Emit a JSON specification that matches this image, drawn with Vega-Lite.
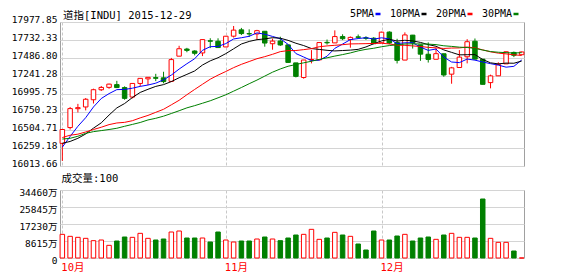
{
  "$schema": "https://vega.github.io/schema/vega-lite/v6.json",
  "padding": {"left": 10, "top": 9, "right": 0, "bottom": 0},
  "background": "white",
  "spacing": 4,
  "config": {
    "view": {"stroke": "#a0a0a0"},
    "font": "DejaVu Sans Mono, Noto Sans CJK SC",
    "axis": {"labelFont": "DejaVu Sans Mono, Noto Sans CJK SC", "labelFontSize": 9.5, "labelColor": "#000000", "gridColor": "#d4d4d4", "domain": false, "ticks": false, "title": null, "labelFlush": false, "labelOverlap": false, "labelBound": false},
    "title": {"font": "DejaVu Sans Mono, Noto Sans CJK SC", "fontSize": 10.5, "fontWeight": "normal", "color": "#000000", "anchor": "start", "baseline": "bottom", "frame": "group"}
  },
  "datasets": {
    "k": [
      {"d": "2015-10-02", "o": 16270, "h": 16480, "l": 16014, "c": 16472, "v": 11992, "a5": 16216, "a10": 16272, "a20": 16355, "a30": 16333},
      {"d": "2015-10-05", "o": 16500, "h": 16800, "l": 16472, "c": 16776, "v": 10979, "a5": 16371, "a10": 16298, "a20": 16389, "a30": 16344},
      {"d": "2015-10-06", "o": 16775, "h": 16845, "l": 16720, "c": 16790, "v": 10472, "a5": 16519, "a10": 16344, "a20": 16404, "a30": 16374},
      {"d": "2015-10-07", "o": 16800, "h": 16930, "l": 16750, "c": 16912, "v": 9965, "a5": 16644, "a10": 16407, "a20": 16436, "a30": 16416},
      {"d": "2015-10-08", "o": 16905, "h": 17066, "l": 16850, "c": 17051, "v": 8783, "a5": 16800, "a10": 16492, "a20": 16472, "a30": 16441},
      {"d": "2015-10-09", "o": 17050, "h": 17105, "l": 17032, "c": 17084, "v": 9121, "a5": 16923, "a10": 16569, "a20": 16505, "a30": 16456},
      {"d": "2015-10-12", "o": 17085, "h": 17139, "l": 17064, "c": 17132, "v": 6418, "a5": 16994, "a10": 16682, "a20": 16543, "a30": 16472},
      {"d": "2015-10-13", "o": 17125, "h": 17180, "l": 17075, "c": 17082, "v": 8614, "a5": 17052, "a10": 16786, "a20": 16567, "a30": 16490},
      {"d": "2015-10-14", "o": 17082, "h": 17100, "l": 16905, "c": 16925, "v": 10641, "a5": 17055, "a10": 16850, "a20": 16576, "a30": 16519},
      {"d": "2015-10-15", "o": 16944, "h": 17142, "l": 16924, "c": 17142, "v": 10472, "a5": 17073, "a10": 16937, "a20": 16600, "a30": 16546},
      {"d": "2015-10-16", "o": 17142, "h": 17218, "l": 17100, "c": 17216, "v": 12499, "a5": 17099, "a10": 17011, "a20": 16641, "a30": 16574},
      {"d": "2015-10-19", "o": 17209, "h": 17235, "l": 17119, "c": 17231, "v": 9965, "a5": 17119, "a10": 17057, "a20": 16677, "a30": 16611},
      {"d": "2015-10-20", "o": 17227, "h": 17282, "l": 17176, "c": 17217, "v": 9121, "a5": 17146, "a10": 17099, "a20": 16722, "a30": 16635},
      {"d": "2015-10-21", "o": 17224, "h": 17312, "l": 17144, "c": 17169, "v": 9627, "a5": 17195, "a10": 17125, "a20": 16766, "a30": 16666},
      {"d": "2015-10-22", "o": 17172, "h": 17513, "l": 17162, "c": 17489, "v": 13174, "a5": 17264, "a10": 17169, "a20": 16831, "a30": 16705},
      {"d": "2015-10-23", "o": 17539, "h": 17690, "l": 17539, "c": 17647, "v": 13681, "a5": 17351, "a10": 17225, "a20": 16897, "a30": 16745},
      {"d": "2015-10-26", "o": 17642, "h": 17660, "l": 17596, "c": 17623, "v": 10134, "a5": 17429, "a10": 17274, "a20": 16978, "a30": 16787},
      {"d": "2015-10-27", "o": 17614, "h": 17625, "l": 17551, "c": 17581, "v": 10134, "a5": 17502, "a10": 17324, "a20": 17055, "a30": 16819},
      {"d": "2015-10-28", "o": 17586, "h": 17780, "l": 17540, "c": 17780, "v": 10134, "a5": 17624, "a10": 17410, "a20": 17130, "a30": 16854},
      {"d": "2015-10-29", "o": 17763, "h": 17800, "l": 17656, "c": 17756, "v": 8107, "a5": 17677, "a10": 17471, "a20": 17204, "a30": 16890},
      {"d": "2015-10-30", "o": 17756, "h": 17799, "l": 17660, "c": 17664, "v": 13174, "a5": 17681, "a10": 17516, "a20": 17263, "a30": 16933},
      {"d": "2015-11-02", "o": 17673, "h": 17833, "l": 17673, "c": 17829, "v": 9121, "a5": 17722, "a10": 17576, "a20": 17316, "a30": 16977},
      {"d": "2015-11-03", "o": 17830, "h": 17977.85, "l": 17810, "c": 17918, "v": 8107, "a5": 17789, "a10": 17646, "a20": 17372, "a30": 17030},
      {"d": "2015-11-04", "o": 17922, "h": 17950, "l": 17846, "c": 17868, "v": 8614, "a5": 17807, "a10": 17716, "a20": 17420, "a30": 17083},
      {"d": "2015-11-05", "o": 17867, "h": 17929, "l": 17819, "c": 17863, "v": 8614, "a5": 17828, "a10": 17753, "a20": 17461, "a30": 17138},
      {"d": "2015-11-06", "o": 17862, "h": 17922, "l": 17777, "c": 17910, "v": 9627, "a5": 17878, "a10": 17779, "a20": 17502, "a30": 17191},
      {"d": "2015-11-09", "o": 17901, "h": 17901, "l": 17677, "c": 17730, "v": 10641, "a5": 17858, "a10": 17790, "a20": 17532, "a30": 17249},
      {"d": "2015-11-10", "o": 17720, "h": 17795, "l": 17633, "c": 17758, "v": 9627, "a5": 17826, "a10": 17808, "a20": 17566, "a30": 17306},
      {"d": "2015-11-11", "o": 17759, "h": 17822, "l": 17688, "c": 17702, "v": 8783, "a5": 17793, "a10": 17800, "a20": 17605, "a30": 17353},
      {"d": "2015-11-12", "o": 17703, "h": 17703, "l": 17442, "c": 17448, "v": 10134, "a5": 17710, "a10": 17769, "a20": 17620, "a30": 17392},
      {"d": "2015-11-13", "o": 17441, "h": 17441, "l": 17230, "c": 17245, "v": 11654, "a5": 17577, "a10": 17727, "a20": 17621, "a30": 17418},
      {"d": "2015-11-16", "o": 17229, "h": 17484, "l": 17211, "c": 17483, "v": 11992, "a5": 17527, "a10": 17693, "a20": 17634, "a30": 17442},
      {"d": "2015-11-17", "o": 17486, "h": 17627, "l": 17434, "c": 17490, "v": 14525, "a5": 17474, "a10": 17650, "a20": 17648, "a30": 17465},
      {"d": "2015-11-18", "o": 17485, "h": 17740, "l": 17485, "c": 17737, "v": 9458, "a5": 17481, "a10": 17637, "a20": 17676, "a30": 17492},
      {"d": "2015-11-19", "o": 17740, "h": 17781, "l": 17707, "c": 17733, "v": 10134, "a5": 17538, "a10": 17624, "a20": 17688, "a30": 17515},
      {"d": "2015-11-20", "o": 17732, "h": 17914, "l": 17732, "c": 17824, "v": 13005, "a5": 17653, "a10": 17615, "a20": 17697, "a30": 17540},
      {"d": "2015-11-23", "o": 17824, "h": 17857, "l": 17773, "c": 17793, "v": 11654, "a5": 17715, "a10": 17621, "a20": 17706, "a30": 17562},
      {"d": "2015-11-24", "o": 17781, "h": 17825, "l": 17662, "c": 17812, "v": 10979, "a5": 17780, "a10": 17627, "a20": 17717, "a30": 17586},
      {"d": "2015-11-25", "o": 17820, "h": 17854, "l": 17792, "c": 17813, "v": 7094, "a5": 17795, "a10": 17638, "a20": 17719, "a30": 17616},
      {"d": "2015-11-27", "o": 17806, "h": 17829, "l": 17776, "c": 17798, "v": 4054, "a5": 17808, "a10": 17673, "a20": 17721, "a30": 17638},
      {"d": "2015-11-30", "o": 17800, "h": 17817, "l": 17716, "c": 17720, "v": 13681, "a5": 17787, "a10": 17720, "a20": 17724, "a30": 17654},
      {"d": "2015-12-01", "o": 17734, "h": 17895, "l": 17734, "c": 17888, "v": 9121, "a5": 17806, "a10": 17761, "a20": 17727, "a30": 17676},
      {"d": "2015-12-02", "o": 17889, "h": 17901, "l": 17711, "c": 17730, "v": 9121, "a5": 17790, "a10": 17785, "a20": 17717, "a30": 17693},
      {"d": "2015-12-03", "o": 17739, "h": 17792, "l": 17433, "c": 17478, "v": 11147, "a5": 17723, "a10": 17759, "a20": 17698, "a30": 17704},
      {"d": "2015-12-04", "o": 17482, "h": 17885, "l": 17482, "c": 17848, "v": 11992, "a5": 17733, "a10": 17770, "a20": 17697, "a30": 17716},
      {"d": "2015-12-07", "o": 17845, "h": 17848, "l": 17650, "c": 17731, "v": 8614, "a5": 17735, "a10": 17761, "a20": 17688, "a30": 17718},
      {"d": "2015-12-08", "o": 17703, "h": 17703, "l": 17471, "c": 17568, "v": 10134, "a5": 17671, "a10": 17739, "a20": 17680, "a30": 17717},
      {"d": "2015-12-09", "o": 17567, "h": 17740, "l": 17446, "c": 17492, "v": 10641, "a5": 17623, "a10": 17707, "a20": 17667, "a30": 17714},
      {"d": "2015-12-10", "o": 17494, "h": 17657, "l": 17494, "c": 17575, "v": 9458, "a5": 17643, "a10": 17683, "a20": 17660, "a30": 17707},
      {"d": "2015-12-11", "o": 17574, "h": 17574, "l": 17239, "c": 17265, "v": 11654, "a5": 17526, "a10": 17630, "a20": 17651, "a30": 17690},
      {"d": "2015-12-14", "o": 17277, "h": 17383, "l": 17138, "c": 17369, "v": 12499, "a5": 17454, "a10": 17594, "a20": 17657, "a30": 17681},
      {"d": "2015-12-15", "o": 17374, "h": 17627, "l": 17374, "c": 17525, "v": 10472, "a5": 17445, "a10": 17558, "a20": 17659, "a30": 17670},
      {"d": "2015-12-16", "o": 17530, "h": 17786, "l": 17434, "c": 17749, "v": 10472, "a5": 17497, "a10": 17560, "a20": 17672, "a30": 17665},
      {"d": "2015-12-17", "o": 17756, "h": 17796, "l": 17488, "c": 17496, "v": 10134, "a5": 17481, "a10": 17562, "a20": 17660, "a30": 17652},
      {"d": "2015-12-18", "o": 17495, "h": 17495, "l": 17128, "c": 17129, "v": 29895, "a5": 17454, "a10": 17490, "a20": 17630, "a30": 17628},
      {"d": "2015-12-21", "o": 17154, "h": 17270, "l": 17071, "c": 17252, "v": 9965, "a5": 17430, "a10": 17442, "a20": 17602, "a30": 17606},
      {"d": "2015-12-22", "o": 17253, "h": 17450, "l": 17253, "c": 17417, "v": 7938, "a5": 17409, "a10": 17427, "a20": 17583, "a30": 17596},
      {"d": "2015-12-23", "o": 17427, "h": 17606, "l": 17427, "c": 17603, "v": 7938, "a5": 17379, "a10": 17438, "a20": 17572, "a30": 17590},
      {"d": "2015-12-24", "o": 17593, "h": 17606, "l": 17525, "c": 17552, "v": 3547, "a5": 17391, "a10": 17436, "a20": 17559, "a30": 17585},
      {"d": "2015-12-29", "o": 17560, "h": 17605, "l": 17555, "c": 17600, "v": 0.01, "a5": 17483, "a10": 17468, "a20": 17549, "a30": 17590}
    ]
  },
  "vconcat": [
    {
      "width": 464,
      "height": 144,
      "title": {"text": "道指[INDU] 2015-12-29", "offset": -6.5, "dx": 3},
      "data": {"name": "k"},
      "encoding": {
        "x": {"field": "d", "type": "ordinal", "scale": {"type": "point", "padding": 0.3},
              "axis": {"values": ["2015-10-02", "2015-11-02", "2015-12-01"], "labels": false, "grid": true, "gridDash": [3, 2], "gridColor": "#c8c8c8"}}
      },
      "layer": [
        {
          "mark": {"type": "rule", "strokeWidth": 1},
          "encoding": {
            "y": {"field": "l", "type": "quantitative",
                  "scale": {"domain": [15941, 18036], "nice": false, "zero": false},
                  "axis": {"values": [15941, 16202.875, 16464.75, 16726.625, 16988.5, 17250.375, 17512.25, 17774.125, 18036],
                           "labelExpr": "datum.value < 16000 ? '16013.66' : datum.value < 16300 ? '16259.18' : datum.value < 16600 ? '16504.71' : datum.value < 16850 ? '16750.23' : datum.value < 17100 ? '16995.75' : datum.value < 17400 ? '17241.28' : datum.value < 17650 ? '17486.80' : datum.value < 17900 ? '17732.33' : '17977.85'",
                           "grid": true, "labelPadding": 3, "labelOffset": -2.5, "labelOverlap": false, "labelFlush": false, "labelBound": false, "labelSeparation": 0}},
            "y2": {"field": "h"},
            "stroke": {"condition": {"test": "datum.c >= datum.o", "value": "#ff0000"}, "value": "#008000"}
          }
        },
        {
          "mark": {"type": "bar", "size": 4.5, "strokeWidth": 1},
          "encoding": {
            "y": {"field": "o", "type": "quantitative",
                  "axis": {"values": [15941, 16202.875, 16464.75, 16726.625, 16988.5, 17250.375, 17512.25, 17774.125, 18036],
                           "labelExpr": "datum.value < 16000 ? '16013.66' : datum.value < 16300 ? '16259.18' : datum.value < 16600 ? '16504.71' : datum.value < 16850 ? '16750.23' : datum.value < 17100 ? '16995.75' : datum.value < 17400 ? '17241.28' : datum.value < 17650 ? '17486.80' : datum.value < 17900 ? '17732.33' : '17977.85'",
                           "grid": true, "labelPadding": 3, "labelOffset": -2.5, "labelOverlap": false, "labelFlush": false, "labelBound": false, "labelSeparation": 0}},
            "y2": {"field": "c"},
            "fill": {"condition": {"test": "datum.c >= datum.o", "value": "#ffffff"}, "value": "#008000"},
            "stroke": {"condition": {"test": "datum.c >= datum.o", "value": "#ff0000"}, "value": "#008000"}
          }
        },
        {
          "transform": [{"fold": ["a5", "a10", "a20", "a30"], "as": ["k", "val"]}],
          "mark": {"type": "line", "strokeWidth": 1},
          "encoding": {
            "y": {"field": "val", "type": "quantitative",
                  "axis": {"values": [15941, 16202.875, 16464.75, 16726.625, 16988.5, 17250.375, 17512.25, 17774.125, 18036],
                           "labelExpr": "datum.value < 16000 ? '16013.66' : datum.value < 16300 ? '16259.18' : datum.value < 16600 ? '16504.71' : datum.value < 16850 ? '16750.23' : datum.value < 17100 ? '16995.75' : datum.value < 17400 ? '17241.28' : datum.value < 17650 ? '17486.80' : datum.value < 17900 ? '17732.33' : '17977.85'",
                           "grid": true, "labelPadding": 3, "labelOffset": -2.5, "labelOverlap": false, "labelFlush": false, "labelBound": false, "labelSeparation": 0}},
            "color": {"field": "k", "type": "nominal",
                      "scale": {"domain": ["a5", "a10", "a20", "a30"], "range": ["#0000ff", "#000000", "#ff0000", "#008000"]},
                      "legend": {"orient": "none", "legendX": 313, "legendY": -13, "direction": "horizontal", "title": null,
                                 "labelExpr": "datum.value == 'a5' ? '5PMA' : datum.value == 'a10' ? '10PMA' : datum.value == 'a20' ? '20PMA' : '30PMA'",
                                 "symbolType": "M-1,0H1", "symbolSize": 25, "symbolStrokeWidth": 2.5,
                                 "labelAlign": "right", "labelOffset": -9, "columnPadding": 3,
                                 "labelFont": "DejaVu Sans Mono", "labelFontSize": 10, "labelColor": "#000000", "padding": 0}}
          }
        }
      ]
    },
    {
      "width": 464,
      "height": 68,
      "title": {"text": "成交量:100", "offset": 3.5, "dx": 1.5},
      "data": {"name": "k"},
      "mark": {"type": "bar", "size": 4.5, "strokeWidth": 1},
      "encoding": {
        "x": {"field": "d", "type": "ordinal", "scale": {"type": "point", "padding": 0.3},
              "axis": {"values": ["2015-10-02", "2015-11-02", "2015-12-01"],
                       "labelExpr": "datum.value == '2015-10-02' ? '10月' : datum.value == '2015-11-02' ? '11月' : '12月'",
                       "grid": true, "gridDash": [3, 2], "gridColor": "#c8c8c8", "labelColor": "#ff0000", "labelFontSize": 10.5,
                       "labelAlign": "left", "labelBaseline": "top", "labelPadding": 4, "labelOffset": -1.5, "labelAngle": 0}},
        "y": {"field": "v", "type": "quantitative", "scale": {"domain": [0, 34460], "nice": false},
              "axis": {"values": [0, 8615, 17230, 25845, 34460], "labelExpr": "datum.value == 0 ? '0' : datum.value + '万'",
                       "grid": true, "labelPadding": 3, "labelOffset": 2.5}},
        "fill": {"condition": {"test": "datum.c >= datum.o", "value": "#ffffff"}, "value": "#008000"},
        "stroke": {"condition": {"test": "datum.c >= datum.o", "value": "#ff0000"}, "value": "#008000"}
      }
    }
  ]
}
